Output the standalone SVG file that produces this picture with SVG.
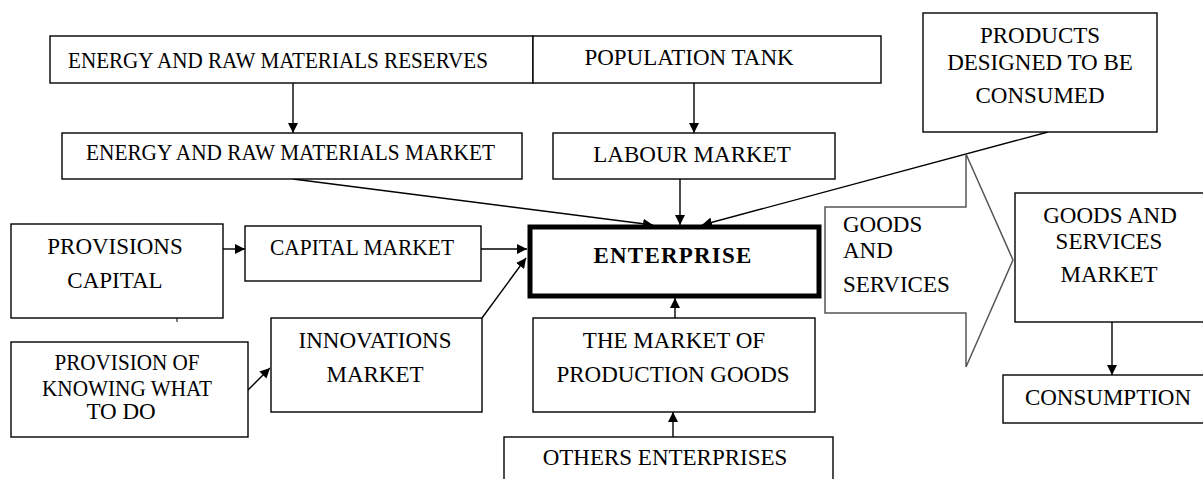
<svg xmlns="http://www.w3.org/2000/svg" width="1203" height="479" viewBox="0 0 1203 479">
  <defs>
    <marker id="arrow" viewBox="0 0 10 10" refX="10" refY="5" markerWidth="10" markerHeight="10" markerUnits="userSpaceOnUse" orient="auto">
      <path d="M0,0 L10,5 L0,10 Z" fill="#000"/>
    </marker>
    <style>
      .box { fill: #fff; stroke: #000; stroke-width: 1.4; }
      .label { font-family: "Liberation Serif", "Times New Roman", serif; font-size: 23px; fill: #000; text-anchor: middle; }
      .left { text-anchor: start; }
      .conn { stroke: #000; stroke-width: 1.4; fill: none; marker-end: url(#arrow); }
    </style>
  </defs>
  <rect width="1203" height="479" fill="#fff"/>

  <g id="connectors">
    <line class="conn" x1="293" y1="83" x2="293" y2="133"/>
    <line class="conn" x1="694" y1="83" x2="694" y2="133"/>
    <line class="conn" x1="293" y1="179" x2="653" y2="225"/>
    <line class="conn" x1="680" y1="179" x2="680" y2="225"/>
    <line class="conn" x1="1048" y1="132" x2="702" y2="225"/>
    <line class="conn" x1="223" y1="249" x2="245" y2="249"/>
    <line class="conn" x1="481" y1="249" x2="527" y2="249"/>
    <line class="conn" x1="482" y1="318" x2="526" y2="258"/>
    <line class="conn" x1="247" y1="391" x2="270" y2="368"/>
    <line class="conn" x1="675" y1="318" x2="675" y2="298"/>
    <line class="conn" x1="673" y1="437" x2="673" y2="412"/>
    <line class="conn" x1="1112" y1="322" x2="1112" y2="375"/>
    <line x1="177" y1="318" x2="177" y2="322" stroke="#000" stroke-width="1"/>
  </g>

  <g id="reserves">
    <rect class="box" x="50" y="36" width="483" height="47"/>
    <text class="label left" x="68" y="68" font-size="21" textLength="420" lengthAdjust="spacingAndGlyphs">ENERGY AND RAW MATERIALS RESERVES</text>
  </g>
  <g id="population">
    <rect class="box" x="533" y="36" width="348" height="47"/>
    <text class="label" x="689" y="65" font-size="22">POPULATION TANK</text>
  </g>
  <g id="energy-market">
    <rect class="box" x="62" y="133" width="460" height="46"/>
    <text class="label left" x="86" y="160" font-size="21" textLength="409" lengthAdjust="spacingAndGlyphs">ENERGY AND RAW MATERIALS MARKET</text>
  </g>
  <g id="labour-market">
    <rect class="box" x="553" y="133" width="282" height="46"/>
    <text class="label" x="692" y="162" font-size="22.5">LABOUR MARKET</text>
  </g>
  <g id="products">
    <rect class="box" x="923" y="13" width="234" height="119"/>
    <text class="label" x="1040" y="43">PRODUCTS</text>
    <text class="label" x="1040" y="70">DESIGNED TO BE</text>
    <text class="label" x="1040" y="103">CONSUMED</text>
  </g>
  <g id="enterprise">
    <rect x="530" y="227" width="289" height="69" fill="#fff" stroke="#000" stroke-width="5"/>
    <text class="label" x="673" y="263" font-size="24" font-weight="bold" letter-spacing="1.2">ENTERPRISE</text>
  </g>
  <g id="provisions-capital">
    <rect class="box" x="11" y="224" width="212" height="94"/>
    <text class="label" x="115" y="254" font-size="22">PROVISIONS</text>
    <text class="label" x="115" y="288" font-size="22">CAPITAL</text>
  </g>
  <g id="capital-market">
    <rect class="box" x="245" y="226" width="236" height="55"/>
    <text class="label" x="362" y="255" font-size="21.5" textLength="184" lengthAdjust="spacingAndGlyphs">CAPITAL MARKET</text>
  </g>
  <g id="innovations-market">
    <rect class="box" x="271" y="318" width="211" height="94"/>
    <text class="label" x="375" y="348">INNOVATIONS</text>
    <text class="label" x="375" y="382">MARKET</text>
  </g>
  <g id="knowing">
    <rect class="box" x="11" y="342" width="237" height="95"/>
    <text class="label" x="127" y="370" font-size="20.5" textLength="145" lengthAdjust="spacingAndGlyphs">PROVISION OF</text>
    <text class="label" x="127" y="396" font-size="20.5" textLength="170" lengthAdjust="spacingAndGlyphs">KNOWING WHAT</text>
    <text class="label" x="121" y="419" font-size="20.5">TO DO</text>
  </g>
  <g id="production-goods">
    <rect class="box" x="533" y="318" width="282" height="94"/>
    <text class="label" x="674" y="348">THE MARKET OF</text>
    <text class="label" x="673" y="382">PRODUCTION GOODS</text>
  </g>
  <g id="others">
    <rect class="box" x="504" y="437" width="329" height="50"/>
    <text class="label" x="665" y="465">OTHERS ENTERPRISES</text>
  </g>
  <g id="goods-services">
    <path d="M825,207 L966,207 L966,154 L1013,260 L966,367 L966,313 L825,313 Z" fill="#fff" stroke="#555" stroke-width="1.5"/>
    <text class="label left" x="843" y="232">GOODS</text>
    <text class="label left" x="843" y="258">AND</text>
    <text class="label left" x="843" y="292">SERVICES</text>
  </g>
  <g id="goods-market">
    <rect class="box" x="1015" y="193" width="200" height="129"/>
    <text class="label" x="1110" y="223">GOODS AND</text>
    <text class="label" x="1109" y="249">SERVICES</text>
    <text class="label" x="1109" y="282">MARKET</text>
  </g>
  <g id="consumption">
    <rect class="box" x="1003" y="375" width="212" height="48"/>
    <text class="label" x="1108" y="405">CONSUMPTION</text>
  </g>
</svg>
